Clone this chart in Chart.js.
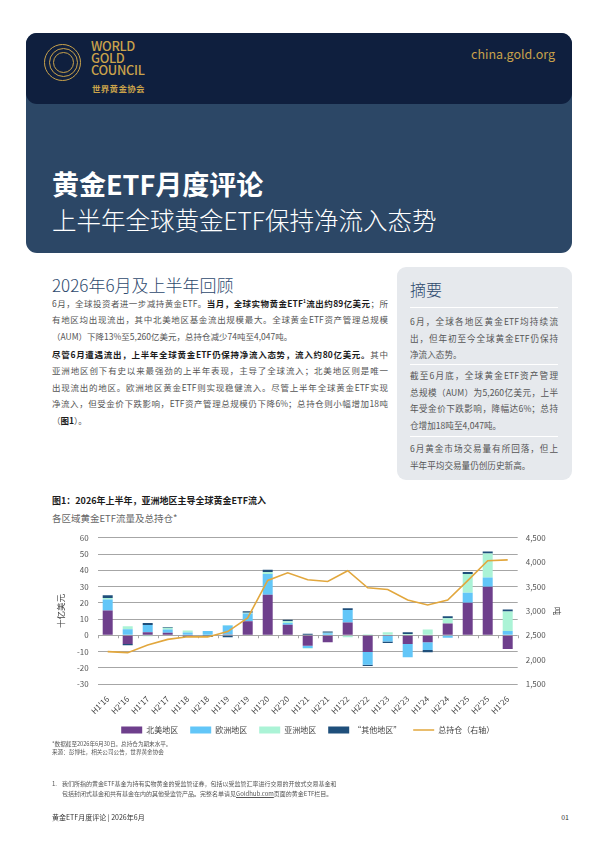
<!DOCTYPE html>
<html>
<head>
<meta charset="utf-8">
<script src="https://cdn.jsdelivr.net/npm/chart.js@4.4.1/dist/chart.umd.min.js"></script>
<style>
  body { margin: 0; width: 595px; height: 841px; position: relative; overflow: hidden; background: #fff;
         font-family: "Noto Sans CJK SC", "Noto Sans", sans-serif; }
  .abs { position: absolute; }
  .hdr { left: 26px; top: 33px; width: 546px; height: 220px; background: #2c4766; border-radius: 11px; }
  .hdr-top { left: 26px; top: 33px; width: 546px; height: 71px; background: #0f1f3e; border-radius: 11px; }
  .ring { position: absolute; border: 1.5px solid #c9a24b; border-radius: 50%; }
  .wgc { left: 91px; top: 40px; color: #c9a24b; font-size: 12.8px; line-height: 12.2px; font-weight: 500; letter-spacing: -0.3px; }
  .wgc-cn { left: 92px; top: 82px; color: #c9a24b; font-size: 8.5px; font-weight: 700; letter-spacing: 0.3px; }
  .site { right: 40px; top: 44px; color: #c9a24b; font-size: 12.5px; }
  .title { left: 52px; top: 166px; color: #fff; font-size: 27px; font-weight: 700; line-height: 36px; }
  .subtitle { left: 52px; top: 203px; color: #fff; font-size: 24.5px; font-weight: 300; line-height: 34px; }
  .sec { left: 52px; top: 273px; color: #2e4a6e; font-size: 17px; font-weight: 300; line-height: 24px; }
  .ln { position: absolute; height: 17px; line-height: 17px; font-size: 8.5px; color: #555; text-align: justify; text-align-last: justify; }
  .ln.body { left: 52px; width: 336px; }
  .ln.side { left: 410px; width: 148px; font-size: 8.6px; }
  .ln.last { text-align-last: left; }
  b { color: #1c1c1c; font-weight: 700; }
  sup { font-size: 5px; line-height: 0; }
  .side-box { left: 397px; top: 267px; width: 175px; height: 213px; background: #e6e9ed; border-radius: 9px; }
  .side-h { left: 410px; top: 278px; color: #2e4a6e; font-size: 16px; font-weight: 300; line-height: 22px; }
  .div { position: absolute; left: 410px; width: 148px; height: 1px; background: #fff; }
  .ctitle { left: 52px; top: 494px; font-size: 9px; font-weight: 700; color: #1c1c1c; line-height: 14px; }
  .csub { left: 52px; top: 511px; font-size: 9.5px; color: #666; line-height: 14px; }
  .note { left: 52px; font-size: 5.6px; color: #555; line-height: 9px; white-space: nowrap; }
  .note.fn { font-size: 6px; }
  .foot { left: 52px; top: 812px; font-size: 7px; color: #333; line-height: 10px; }
  .page { right: 26px; top: 812px; font-size: 7px; color: #333; line-height: 10px; }
  #chartWrap { position: absolute; left: 52px; top: 524px; width: 521px; height: 220px; }
</style>
</head>
<body>
<div class="abs hdr"></div>
<div class="abs hdr-top"></div>
<div class="ring" style="left:44px;top:44px;width:35px;height:35px;"></div>
<div class="ring" style="left:48.5px;top:48px;width:27px;height:27px;"></div>
<div class="ring" style="left:53px;top:52px;width:19px;height:19px;"></div>
<div class="abs wgc">WORLD<br>GOLD<br>COUNCIL</div>
<div class="abs wgc-cn">世界黄金协会</div>
<div class="abs site">china.gold.org</div>
<div class="abs title">黄金ETF月度评论</div>
<div class="abs subtitle">上半年全球黄金ETF保持净流入态势</div>

<div class="abs sec">2026年6月及上半年回顾</div>
<div class="ln body" style="top:294.5px">6月，全球投资者进一步减持黄金ETF。<b>当月，全球实物黄金ETF<sup>1</sup>流出约89亿美元</b>；所</div>
<div class="ln body" style="top:311px">有地区均出现流出，其中北美地区基金流出规模最大。全球黄金ETF资产管理总规模</div>
<div class="ln body last" style="top:327.5px">（AUM）下降13%至5,260亿美元，总持仓减少74吨至4,047吨。</div>
<div class="ln body" style="top:345.5px"><b>尽管6月遭遇流出，上半年全球黄金ETF仍保持净流入态势，流入约80亿美元。</b>其中</div>
<div class="ln body" style="top:362px">亚洲地区创下有史以来最强劲的上半年表现，主导了全球流入；北美地区则是唯一</div>
<div class="ln body" style="top:378.5px">出现流出的地区。欧洲地区黄金ETF则实现稳健流入。尽管上半年全球黄金ETF实现</div>
<div class="ln body" style="top:395px">净流入，但受金价下跌影响，ETF资产管理总规模仍下降6%；总持仓则小幅增加18吨</div>
<div class="ln body last" style="top:411.5px">（<b>图1</b>）。</div>

<div class="abs side-box"></div>
<div class="abs side-h">摘要</div>
<div class="div" style="top:307px"></div>
<div class="ln side" style="top:312.5px">6月，全球各地区黄金ETF均持续流</div>
<div class="ln side" style="top:329.5px">出，但年初至今全球黄金ETF仍保持</div>
<div class="ln side last" style="top:345.5px">净流入态势。</div>
<div class="div" style="top:364px"></div>
<div class="ln side" style="top:366.5px">截至6月底，全球黄金ETF资产管理</div>
<div class="ln side" style="top:383.5px">总规模（AUM）为5,260亿美元，上半</div>
<div class="ln side" style="top:399.5px">年受金价下跌影响，降幅达6%；总持</div>
<div class="ln side last" style="top:416.5px">仓增加18吨至4,047吨。</div>
<div class="div" style="top:436px"></div>
<div class="ln side" style="top:439.5px">6月黄金市场交易量有所回落，但上</div>
<div class="ln side last" style="top:456.5px">半年平均交易量仍创历史新高。</div>

<div class="abs ctitle">图1：2026年上半年，亚洲地区主导全球黄金ETF流入</div>
<div class="abs csub">各区域黄金ETF流量及总持仓*</div>
<div id="chartWrap"><canvas id="flows"></canvas></div>

<div class="abs note" style="top:740px">*数据截至2026年6月30日。总持仓为期末水平。</div>
<div class="abs note" style="top:748px">来源：彭博社，相关公司公告，世界黄金协会</div>
<div class="abs note fn" style="top:778.5px">1.</div>
<div class="abs note fn" style="top:778.5px;left:62px">我们所指的黄金ETF基金为持有实物黄金的受监管证券，包括以受监管汇率进行交易的开放式交易基金和</div>
<div class="abs note fn" style="top:788.5px;left:62px">包括封闭式基金和共有基金在内的其他受监管产品。完整名单请见<u>Goldhub.com</u>页面的黄金ETF栏目。</div>
<div class="abs foot">黄金ETF月度评论 | 2026年6月</div>
<div class="abs page">01</div>

<script>
// half-year periods
const categories = ["H1'16","H2'16","H1'17","H2'17","H1'18","H2'18","H1'19","H2'19","H1'20","H2'20",
  "H1'21","H2'21","H1'22","H2'22","H1'23","H2'23","H1'24","H2'24","H1'25","H2'25","H1'26"];

// fund flows, US$bn
const northAmerica = [15.2, -5.3, 1.8, 1.5, -0.4, -0.3, 0.5, 8.6, 25.0, 6.4, -6.5, -4.3, 7.8, -10.3, -0.4, -5.3, -4.3, 7.2, 20.0, 29.8, -8.4];
const europe       = [6.8, 3.7, 4.5, 2.0, 1.7, 2.6, 5.5, 4.8, 12.7, 1.2, -1.3, 1.2, 7.8, -7.8, -3.5, -8.2, -4.7, -1.6, 6.2, 5.8, 2.7];
const asia         = [1.0, 1.8, -0.6, 1.2, 1.2, 0.0, 0.3, 0.4, 1.2, 1.0, -0.3, 0.3, -1.2, 0.6, 1.9, 0.8, 3.5, 3.3, 11.5, 14.8, 11.9];
const other        = [1.7, -0.8, 1.3, 0.4, -0.5, -0.8, -1.2, 1.0, 1.5, 1.0, 0.9, 0.8, 1.0, -0.8, -0.8, 1.0, -1.4, 1.2, 1.2, 1.2, 1.2];

// total holdings, tonnes (right axis)
const holdings = [2165, 2143, 2300, 2415, 2470, 2466, 2575, 2857, 3624, 3783, 3640, 3604, 3824, 3474, 3440, 3223, 3122, 3223, 3622, 4029, 4047];

const fontFam = '"Noto Sans CJK SC", "Noto Sans", sans-serif';

// little tick marks along the zero line between categories
const zeroTicks = {
  id: 'zeroTicks',
  beforeDatasetsDraw(chart) {
    const { ctx, scales: { x, y } } = chart;
    const y0 = y.getPixelForValue(0);
    ctx.save();
    ctx.strokeStyle = '#a6a6a6';
    ctx.lineWidth = 1;
    for (let i = 0; i <= categories.length; i++) {
      const px = Math.round(x.getPixelForValue(i - 0.5)) + 0.5;
      ctx.beginPath(); ctx.moveTo(px, y0); ctx.lineTo(px, y0 + 3); ctx.stroke();
    }
    ctx.restore();
  }
};

const barBase = { type: 'bar', yAxisID: 'y', stack: 'flows', borderWidth: 0, barPercentage: 0.5, categoryPercentage: 1, pointStyle: 'rect', order: 2 };

new Chart(document.getElementById('flows'), {
  data: {
    labels: categories,
    datasets: [
      { ...barBase, label: '北美地区', data: northAmerica, backgroundColor: '#6e3f8c' },
      { ...barBase, label: '欧洲地区', data: europe, backgroundColor: '#62c6f8' },
      { ...barBase, label: '亚洲地区', data: asia, backgroundColor: '#abf3d6' },
      { ...barBase, label: '“其他地区”', data: other, backgroundColor: '#1f4f7b' },
      { type: 'line', label: '总持仓（右轴）', data: holdings, yAxisID: 'y1', borderColor: '#e2a73d', backgroundColor: '#e2a73d',
        borderWidth: 1.6, tension: 0, pointRadius: 0, pointStyle: 'line', order: 1 },
    ]
  },
  options: {
    responsive: true,
    maintainAspectRatio: false,
    animation: false,
    layout: { padding: { top: 4, right: 7, left: 0, bottom: 0 } },
    plugins: {
      legend: {
        position: 'bottom',
        fullSize: false,
        labels: { usePointStyle: true, pointStyleWidth: 21, boxHeight: 7, padding: 12, color: '#444',
                  font: { family: fontFam, size: 8 }, sort: (a, b) => a.datasetIndex - b.datasetIndex }
      },
      tooltip: { enabled: false }
    },
    scales: {
      x: {
        stacked: true,
        grid: { display: false },
        border: { display: false },
        ticks: { minRotation: 45, maxRotation: 45, autoSkip: false, padding: 2, color: '#444', font: { family: fontFam, size: 8 } },
        afterFit: s => { s.height = 30; }
      },
      y: {
        stacked: true,
        position: 'left',
        min: -30, max: 60,
        ticks: { stepSize: 10, padding: 9, color: '#555', font: { family: fontFam, size: 8 } },
        grid: { color: '#a6a6a6', lineWidth: 1, drawTicks: false },
        border: { display: false },
        title: { display: true, text: '十亿美元', color: '#444', font: { family: fontFam, size: 8.5 }, padding: 4 },
        afterFit: s => { s.width = 45.7; }
      },
      y1: {
        position: 'right',
        min: 1500, max: 4500,
        ticks: { stepSize: 500, padding: 0, color: '#555', font: { family: fontFam, size: 8 },
                 callback: v => v.toLocaleString('en-US') },
        grid: { display: false },
        border: { display: false },
        title: { display: true, text: '吨', color: '#444', font: { family: fontFam, size: 8.5 }, padding: 4 },
        afterFit: s => { s.width = 48.3; }
      }
    }
  },
  plugins: [zeroTicks]
});
</script>
</body>
</html>
